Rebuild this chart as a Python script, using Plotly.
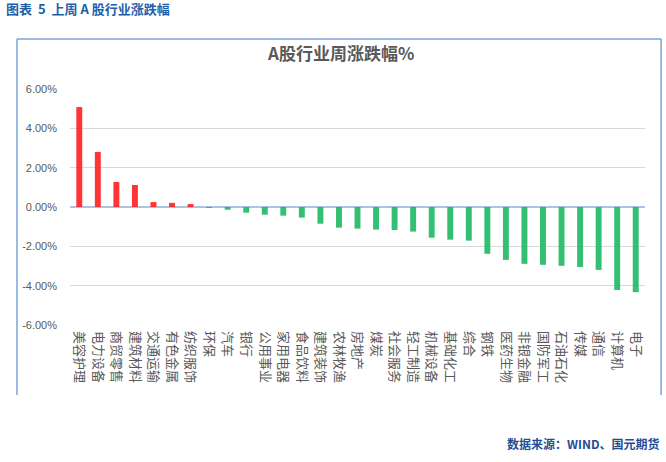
import plotly.graph_objects as go

industries = ["美容护理", "电力设备", "商贸零售", "建筑材料", "交通运输", "有色金属", "纺织服饰",
              "环保", "汽车", "银行", "公用事业", "家用电器", "食品饮料", "建筑装饰", "农林牧渔",
              "房地产", "煤炭", "社会服务", "轻工制造", "机械设备", "基础化工", "综合", "钢铁",
              "医药生物", "非银金融", "国防军工", "石油石化", "传媒", "通信", "计算机", "电子"]
changes = [5.08, 2.80, 1.27, 1.12, 0.25, 0.21, 0.15,
           -0.05, -0.14, -0.29, -0.39, -0.44, -0.54, -0.85, -1.05,
           -1.10, -1.15, -1.17, -1.25, -1.56, -1.66, -1.71, -2.38,
           -2.69, -2.89, -2.94, -2.99, -3.05, -3.20, -4.22, -4.33]
y_ticks = [-6, -4, -2, 0, 2, 4, 6]
y_tick_text = ["-6.00%", "-4.00%", "-2.00%", "0.00%", "2.00%", "4.00%", "6.00%"]

RED = "rgba(255,30,30,0.9)"
GREEN = "rgba(30,185,100,0.9)"
colors = [RED if v > 0 else GREEN for v in changes]

CJK = "Noto Sans CJK SC"
fig = go.Figure(go.Bar(x=industries, y=changes, marker=dict(color=colors, line=dict(width=0)),
                       hoverinfo="x+y"))

fig.update_layout(
    width=666, height=462,
    margin=dict(l=70, r=21, t=89, b=137),
    paper_bgcolor="white", plot_bgcolor="white",
    bargap=0.68,
    showlegend=False,
    font=dict(family=CJK, color="#595959"),
    xaxis=dict(tickangle=90, tickfont=dict(size=13, family=CJK, color="#595959"),
               showgrid=False, showline=False, ticks="", zeroline=False,
               ticklabelstandoff=5),
    yaxis=dict(range=[-6, 6], tickvals=y_ticks, ticktext=y_tick_text,
               tickfont=dict(size=11, family="Liberation Sans", color="#595959"),
               showgrid=True, gridcolor="#d9d9d9", gridwidth=1,
               zeroline=True, zerolinecolor="#a9c4e4", zerolinewidth=1.5,
               showline=False, ticks="", ticklabelstandoff=12),
    annotations=[
        dict(text="<b>A股行业周涨跌幅%</b>", xref="paper", yref="paper", x=0.47, y=1.155,
             xanchor="center", yanchor="middle", showarrow=False,
             font=dict(size=17, family=CJK, color="#595959")),
        dict(text="<b>图表  5  上周 A 股行业涨跌幅</b>", xref="paper", yref="paper",
             x=-0.115, y=1.34, xanchor="left", yanchor="middle", showarrow=False,
             font=dict(size=13, family=CJK, color="#1f5fa8")),
        dict(text="<b>数据来源：WIND、国元期货</b>", xref="paper", yref="paper",
             x=1.03, y=-0.50, xanchor="right", yanchor="middle", showarrow=False,
             font=dict(size=12, family=CJK, color="#1f4e96")),
    ],
    shapes=[
        dict(type="line", xref="paper", yref="paper", x0=-0.0922, x1=1.028, y0=1.212, y1=1.212,
             line=dict(color="#7aa6d8", width=1.5)),
        dict(type="line", xref="paper", yref="paper", x0=-0.0922, x1=-0.0922, y0=1.212, y1=-0.297,
             line=dict(color="#7aa6d8", width=1.5)),
        dict(type="line", xref="paper", yref="paper", x0=1.028, x1=1.028, y0=1.212, y1=-0.297,
             line=dict(color="#7aa6d8", width=1.5)),
    ],
)

fig.write_html("out.html", config={"displayModeBar": False},
               post_script="document.body.style.margin='0';")
